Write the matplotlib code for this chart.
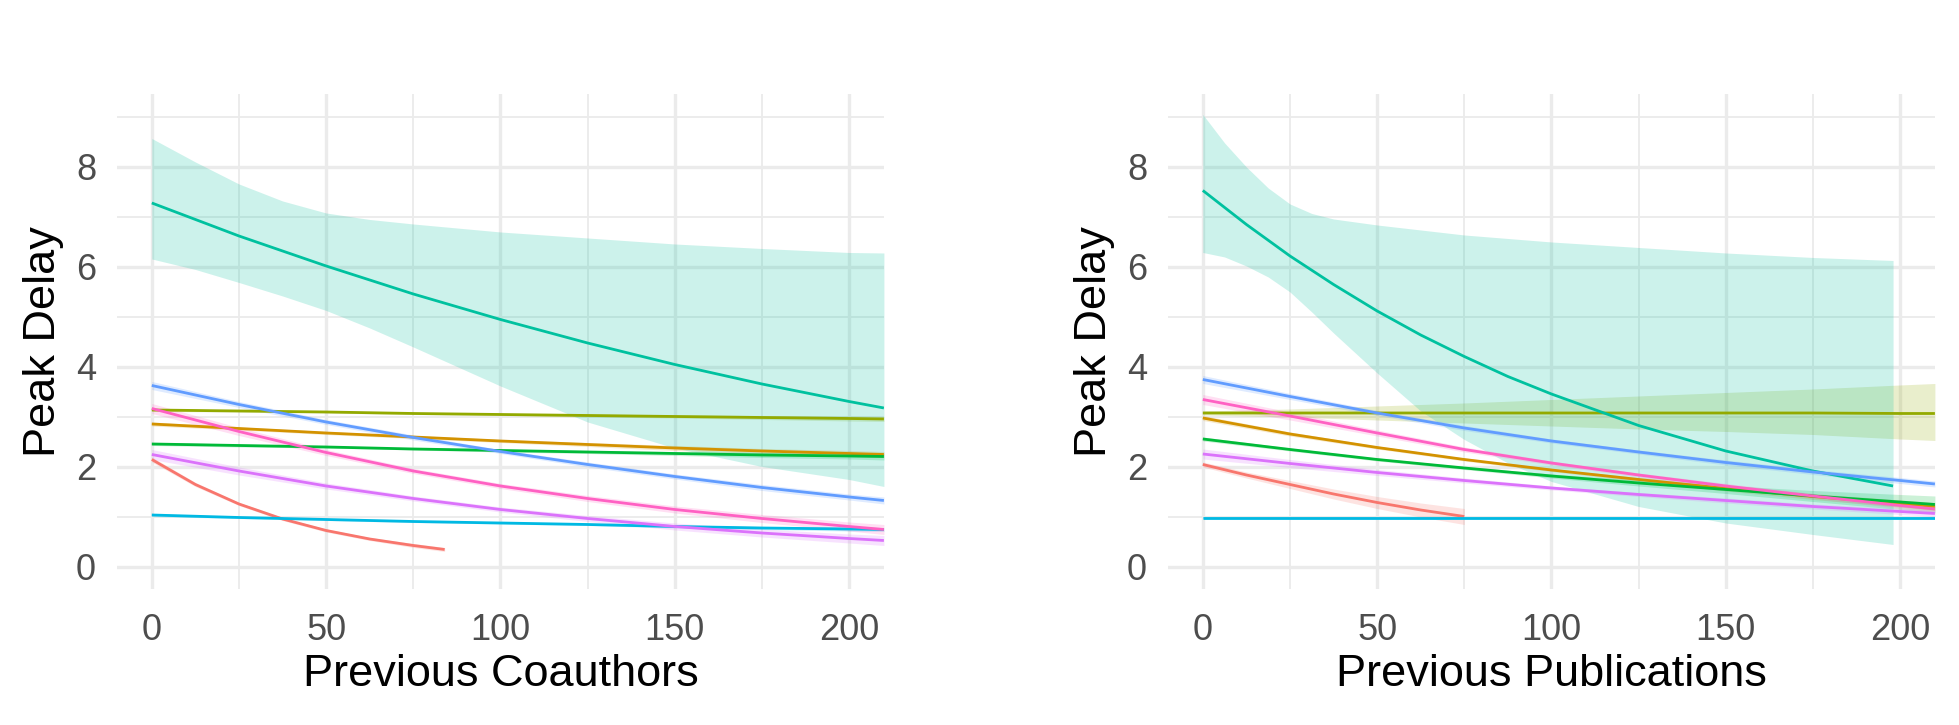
import matplotlib
matplotlib.use("Agg")
import matplotlib.pyplot as plt

plt.rcParams["font.family"] = ["Liberation Sans", "DejaVu Sans"]

# ggplot hue palette, 9 groups
RED = "#F8766D"; ORANGE = "#D39200"; OLIVE = "#93AA00"; GREEN = "#00BA38"; TEAL = "#00C19F"
CYAN = "#00B9E3"; BLUE = "#619CFF"; PURPLE = "#DB72FB"; PINK = "#FF61C3"
GRID = "#EBEBEB"; TICK = "#4D4D4D"

# ---- left panel: Previous Coauthors ----
X_L = [0, 25, 50, 75, 100, 125, 150, 175, 200, 210]
OLIVE_L = [3.14, 3.12, 3.10, 3.07, 3.05, 3.03, 3.01, 2.99, 2.97, 2.96]
OLIVE_L_SE = [0.03, 0.02, 0.02, 0.02, 0.02, 0.03, 0.03, 0.04, 0.05, 0.05]
ORANGE_L = [2.86, 2.77, 2.68, 2.60, 2.52, 2.45, 2.38, 2.32, 2.27, 2.25]
ORANGE_L_SE = [0.04, 0.03, 0.03, 0.03, 0.03, 0.04, 0.05, 0.05, 0.06, 0.06]
GREEN_L = [2.46, 2.43, 2.40, 2.36, 2.33, 2.30, 2.27, 2.24, 2.22, 2.21]
GREEN_L_SE = [0.03, 0.03, 0.02, 0.02, 0.03, 0.03, 0.04, 0.05, 0.06, 0.07]
BLUE_L = [3.63, 3.25, 2.90, 2.59, 2.31, 2.05, 1.81, 1.59, 1.40, 1.33]
BLUE_L_SE = [0.08, 0.06, 0.05, 0.05, 0.04, 0.05, 0.05, 0.06, 0.06, 0.07]
PINK_L = [3.17, 2.71, 2.29, 1.92, 1.62, 1.37, 1.15, 0.97, 0.81, 0.75]
PINK_L_SE = [0.10, 0.08, 0.06, 0.05, 0.05, 0.06, 0.07, 0.08, 0.09, 0.10]
PURPLE_L = [2.25, 1.92, 1.62, 1.37, 1.15, 0.97, 0.81, 0.68, 0.57, 0.53]
PURPLE_L_SE = [0.10, 0.08, 0.06, 0.05, 0.05, 0.06, 0.07, 0.08, 0.09, 0.10]
CYAN_L = [1.04, 0.99, 0.95, 0.91, 0.88, 0.85, 0.81, 0.78, 0.76, 0.75]
CYAN_L_SE = [0.03, 0.02, 0.02, 0.02, 0.02, 0.02, 0.03, 0.03, 0.04, 0.04]
RED_L_X = [0, 12.5, 25, 37.5, 50, 62.5, 75, 84]
RED_L = [2.15, 1.65, 1.26, 0.96, 0.73, 0.56, 0.43, 0.35]
RED_L_SE = [0.05, 0.04, 0.03, 0.03, 0.03, 0.03, 0.04, 0.04]
TEAL_L = [7.28, 6.62, 6.02, 5.46, 4.95, 4.48, 4.05, 3.66, 3.31, 3.18]
TEAL_L_BAND_X = [0, 12.5, 25, 37.5, 50, 62.5, 75, 100, 125, 150, 175, 200, 210]
TEAL_L_HI = [8.57, 8.10, 7.66, 7.32, 7.08, 6.95, 6.86, 6.70, 6.58, 6.46, 6.37, 6.29, 6.28]
TEAL_L_LO = [6.16, 5.95, 5.69, 5.42, 5.13, 4.78, 4.40, 3.62, 2.90, 2.38, 2.01, 1.75, 1.61]

# ---- right panel: Previous Publications ----
X_R = [0, 25, 50, 75, 100, 125, 150, 175, 200, 210]
OLIVE_R = [3.08, 3.08, 3.08, 3.08, 3.08, 3.08, 3.08, 3.08, 3.07, 3.07]
OLIVE_R_HI = [3.12, 3.16, 3.22, 3.28, 3.35, 3.42, 3.49, 3.56, 3.64, 3.67]
OLIVE_R_LO = [3.04, 3.00, 2.94, 2.88, 2.82, 2.76, 2.71, 2.65, 2.56, 2.53]
BLUE_R = [3.75, 3.41, 3.08, 2.78, 2.52, 2.30, 2.09, 1.90, 1.73, 1.66]
BLUE_R_SE = [0.08, 0.06, 0.05, 0.05, 0.04, 0.04, 0.05, 0.05, 0.06, 0.06]
PINK_R = [3.35, 3.02, 2.68, 2.35, 2.08, 1.84, 1.62, 1.42, 1.23, 1.16]
PINK_R_SE = [0.10, 0.08, 0.06, 0.05, 0.04, 0.04, 0.05, 0.05, 0.06, 0.06]
ORANGE_R = [2.98, 2.66, 2.39, 2.15, 1.94, 1.75, 1.57, 1.41, 1.27, 1.21]
ORANGE_R_SE = [0.05, 0.04, 0.03, 0.03, 0.03, 0.04, 0.05, 0.06, 0.07, 0.08]
GREEN_R = [2.56, 2.35, 2.15, 1.98, 1.82, 1.68, 1.55, 1.42, 1.30, 1.25]
GREEN_R_SE = [0.04, 0.03, 0.03, 0.03, 0.04, 0.06, 0.08, 0.11, 0.15, 0.17]
PURPLE_R = [2.26, 2.07, 1.89, 1.73, 1.58, 1.45, 1.33, 1.21, 1.11, 1.07]
PURPLE_R_SE = [0.10, 0.08, 0.06, 0.05, 0.04, 0.04, 0.05, 0.05, 0.06, 0.06]
CYAN_R = [0.97, 0.97, 0.97, 0.97, 0.97, 0.97, 0.97, 0.97, 0.97, 0.97]
CYAN_R_SE = [0.02, 0.02, 0.02, 0.02, 0.02, 0.02, 0.02, 0.02, 0.02, 0.02]
RED_R_X = [0, 12.5, 25, 37.5, 50, 62.5, 75]
RED_R = [2.05, 1.84, 1.65, 1.46, 1.29, 1.14, 1.01]
RED_R_SE = [0.05, 0.06, 0.08, 0.10, 0.12, 0.14, 0.16]
TEAL_R_X = [0, 12.5, 25, 37.5, 50, 62.5, 75, 87.5, 100, 125, 150, 175, 198]
TEAL_R = [7.53, 6.85, 6.22, 5.65, 5.12, 4.64, 4.21, 3.81, 3.46, 2.83, 2.32, 1.92, 1.62]
TEAL_R_BAND_X = [0, 6.25, 12.5, 18.75, 25, 31.25, 37.5, 50, 62.5, 75, 87.5, 100, 125, 150, 175, 198]
TEAL_R_HI = [9.05, 8.48, 8.00, 7.58, 7.26, 7.07, 6.96, 6.84, 6.74, 6.64, 6.57, 6.50, 6.39, 6.28, 6.19, 6.13]
TEAL_R_LO = [6.29, 6.20, 6.02, 5.80, 5.50, 5.10, 4.68, 3.88, 3.12, 2.55, 2.08, 1.71, 1.21, 0.88, 0.65, 0.45]

X_TICKS = [0, 50, 100, 150, 200]
Y_TICKS = [0, 2, 4, 6, 8]


def se_band(x, y, se):
    return x, [a - s for a, s in zip(y, se)], [a + s for a, s in zip(y, se)]


def draw(ax, bands, lines, xlabel):
    ax.set_xlim(-10, 210)
    ax.set_ylim(-0.45, 9.45)
    for v in [25, 75, 125, 175]:
        ax.axvline(v, color=GRID, lw=1.3, zorder=0)
    for v in [1, 3, 5, 7, 9]:
        ax.axhline(v, color=GRID, lw=1.3, zorder=0)
    for v in X_TICKS:
        ax.axvline(v, color=GRID, lw=2.4, zorder=0)
    for v in Y_TICKS:
        ax.axhline(v, color=GRID, lw=2.4, zorder=0)
    for x, lo, hi, c in bands:
        ax.fill_between(x, lo, hi, color=c, alpha=0.2, lw=0, zorder=1)
    for x, y, c in lines:
        ax.plot(x, y, color=c, lw=2.0, zorder=2, solid_capstyle="butt", solid_joinstyle="round")
    for s in ax.spines.values():
        s.set_visible(False)
    ax.set_xticks(X_TICKS)
    ax.set_yticks(Y_TICKS)
    ax.tick_params(length=0, labelsize=26, labelcolor=TICK)
    ax.tick_params(axis="y", pad=15)
    ax.tick_params(axis="x", pad=17)
    ax.set_xlabel(xlabel, fontsize=32.5, color="black")
    ax.set_ylabel("Peak Delay", fontsize=32.5, color="black", va="center")
    ax.xaxis.label.set_va("center")
    ax.xaxis.set_label_coords(0.5, -0.172)
    ax.yaxis.set_label_coords(-0.096, 0.5)


fig = plt.figure(figsize=(19.59, 7.25), dpi=100)
ax1 = fig.add_axes([0.0597, 0.1869, 0.3915, 0.6828])
ax2 = fig.add_axes([0.5962, 0.1869, 0.3915, 0.6828])

bands_l = [
    (*se_band(RED_L_X, RED_L, RED_L_SE), RED),
    (*se_band(X_L, ORANGE_L, ORANGE_L_SE), ORANGE),
    (*se_band(X_L, OLIVE_L, OLIVE_L_SE), OLIVE),
    (*se_band(X_L, GREEN_L, GREEN_L_SE), GREEN),
    (TEAL_L_BAND_X, TEAL_L_LO, TEAL_L_HI, TEAL),
    (*se_band(X_L, CYAN_L, CYAN_L_SE), CYAN),
    (*se_band(X_L, BLUE_L, BLUE_L_SE), BLUE),
    (*se_band(X_L, PURPLE_L, PURPLE_L_SE), PURPLE),
    (*se_band(X_L, PINK_L, PINK_L_SE), PINK),
]
lines_l = [
    (RED_L_X, RED_L, RED), (X_L, ORANGE_L, ORANGE), (X_L, OLIVE_L, OLIVE),
    (X_L, GREEN_L, GREEN), (X_L, TEAL_L, TEAL), (X_L, CYAN_L, CYAN),
    (X_L, BLUE_L, BLUE), (X_L, PURPLE_L, PURPLE), (X_L, PINK_L, PINK),
]
bands_r = [
    (*se_band(RED_R_X, RED_R, RED_R_SE), RED),
    (*se_band(X_R, ORANGE_R, ORANGE_R_SE), ORANGE),
    (X_R, OLIVE_R_LO, OLIVE_R_HI, OLIVE),
    (*se_band(X_R, GREEN_R, GREEN_R_SE), GREEN),
    (TEAL_R_BAND_X, TEAL_R_LO, TEAL_R_HI, TEAL),
    (*se_band(X_R, CYAN_R, CYAN_R_SE), CYAN),
    (*se_band(X_R, BLUE_R, BLUE_R_SE), BLUE),
    (*se_band(X_R, PURPLE_R, PURPLE_R_SE), PURPLE),
    (*se_band(X_R, PINK_R, PINK_R_SE), PINK),
]
lines_r = [
    (RED_R_X, RED_R, RED), (X_R, ORANGE_R, ORANGE), (X_R, OLIVE_R, OLIVE),
    (X_R, GREEN_R, GREEN), (TEAL_R_X, TEAL_R, TEAL), (X_R, CYAN_R, CYAN),
    (X_R, BLUE_R, BLUE), (X_R, PURPLE_R, PURPLE), (X_R, PINK_R, PINK),
]

draw(ax1, bands_l, lines_l, "Previous Coauthors")
draw(ax2, bands_r, lines_r, "Previous Publications")

fig.savefig("out.png", dpi=100, facecolor="white")
